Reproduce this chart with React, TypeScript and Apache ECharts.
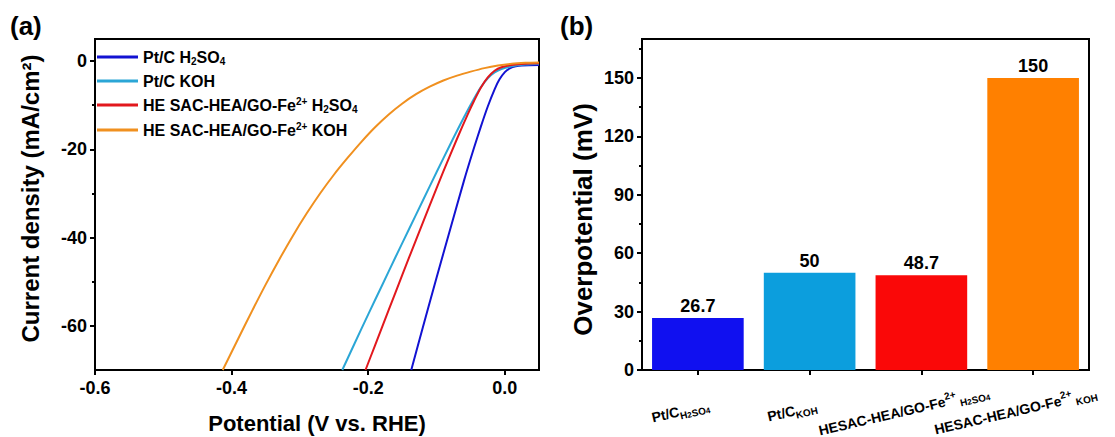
import React, { useEffect, useRef } from 'react';
import * as echarts from 'echarts';

const FONT = '"Liberation Sans", Arial, sans-serif';

// (a) LSV curves: [potential (V vs RHE), current density (mA/cm2)]
const ptcH2SO4: [number, number][] = [
  [-0.137, -70], [-0.12, -60.3], [-0.1, -49.1], [-0.08, -38.1], [-0.06, -27.2], [-0.045, -19.6],
  [-0.035, -14.8], [-0.025, -10.3], [-0.015, -6.4], [-0.008, -4.2], [0.0, -2.5], [0.008, -1.6],
  [0.016, -1.2], [0.025, -1.0], [0.05, -0.9],
];
const ptcKOH: [number, number][] = [
  [-0.238, -70], [-0.22, -64.0], [-0.2, -57.4], [-0.18, -50.9], [-0.16, -44.4], [-0.14, -38.0],
  [-0.12, -31.6], [-0.1, -25.2], [-0.08, -18.9], [-0.06, -12.8], [-0.045, -8.5], [-0.035, -5.9],
  [-0.025, -3.9], [-0.015, -2.6], [-0.005, -1.8], [0.01, -1.2], [0.03, -0.8], [0.05, -0.6],
];
const hesacH2SO4: [number, number][] = [
  [-0.204, -70], [-0.19, -64.4], [-0.17, -56.4], [-0.15, -48.4], [-0.13, -40.5], [-0.11, -32.7],
  [-0.09, -25.0], [-0.07, -17.6], [-0.055, -12.3], [-0.045, -9.0], [-0.035, -6.0], [-0.025, -3.7],
  [-0.015, -2.2], [-0.005, -1.4], [0.01, -0.9], [0.03, -0.6], [0.05, -0.5],
];
const hesacKOH: [number, number][] = [
  [-0.413, -70], [-0.39, -62.8], [-0.37, -56.6], [-0.35, -50.6], [-0.33, -44.9], [-0.31, -39.5],
  [-0.29, -34.5], [-0.27, -29.9], [-0.25, -25.7], [-0.23, -21.9], [-0.21, -18.3], [-0.19, -15.0],
  [-0.17, -12.1], [-0.15, -9.6], [-0.13, -7.5], [-0.11, -5.8], [-0.09, -4.4], [-0.07, -3.3],
  [-0.05, -2.4], [-0.03, -1.6], [-0.01, -1.0], [0.01, -0.6], [0.03, -0.4], [0.05, -0.3],
];
const lineNames = ['Pt/C H2SO4', 'Pt/C KOH', 'HE SAC-HEA/GO-Fe2+ H2SO4', 'HE SAC-HEA/GO-Fe2+ KOH'];
const lineColors = ['#1212d2', '#2ba6d6', '#e2181d', '#f0901f'];
const lsvXTicks = [-0.6, -0.4, -0.2, 0.0];
const lsvYTicks = [0, -20, -40, -60];
const lsvYMinor = [-10, -30, -50];

// (b) overpotential bars
const barCategories = ['Pt/C H2SO4', 'Pt/C KOH', 'HESAC-HEA/GO-Fe2+ H2SO4', 'HESAC-HEA/GO-Fe2+ KOH'];
const overpotentials = [26.7, 50, 48.7, 150];
const barColors = ['#1010f0', '#0c9edd', '#fa0808', '#ff8000'];
const barYTicks = [0, 30, 60, 90, 120, 150];
const barYMinor = [15, 45, 75, 105, 135, 165];

const legendRich: Record<string, string> = {
  'Pt/C H2SO4': '{t|Pt/C H}{s|2}{t|SO}{s|4}',
  'Pt/C KOH': '{t|Pt/C KOH}',
  'HE SAC-HEA/GO-Fe2+ H2SO4': '{t|HE SAC-HEA/GO-Fe}{p|2+}{t| H}{s|2}{t|SO}{s|4}',
  'HE SAC-HEA/GO-Fe2+ KOH': '{t|HE SAC-HEA/GO-Fe}{p|2+}{t| KOH}',
};
const barLabelRich = [
  '{m|Pt/C}{s|H}{ss|2}{s|SO}{ss|4}',
  '{m|Pt/C}{s|KOH}',
  '{m|HESAC-HEA/GO-Fe}{p|2+}{s| H}{ss|2}{s|SO}{ss|4}',
  '{m|HESAC-HEA/GO-Fe}{p|2+}{s| KOH}',
];

const axisLineStyle = { color: '#000', width: 2 };
const tickStyle = { color: '#000', width: 2 };
const tickLabel = { fontSize: 18, fontWeight: 'bold', color: '#000', fontFamily: FONT };
const titleStyle = { fontSize: 22, fontWeight: 'bold', color: '#000', fontFamily: FONT };

export default function App() {
  const ref = useRef<HTMLDivElement>(null);
  useEffect(() => {
    if (!ref.current) return;
    const chart = echarts.init(ref.current, undefined, { renderer: 'svg' });
    const lineData = [ptcH2SO4, ptcKOH, hesacH2SO4, hesacKOH];
    const option: any = {
      animation: false,
      textStyle: { fontFamily: FONT },
      grid: [
        { left: 95, top: 39, width: 444, height: 331, show: true, borderColor: '#000', borderWidth: 2, outerBoundsMode: 'none' },
        { left: 642, top: 39, width: 447, height: 331, show: true, borderColor: '#000', borderWidth: 2, outerBoundsMode: 'none' },
      ],
      legend: {
        orient: 'vertical', left: 97, top: 49, padding: 0, itemGap: 7,
        itemWidth: 41, itemHeight: 3, icon: 'rect',
        data: lineNames,
        formatter: (n: string) => legendRich[n],
        textStyle: {
          fontSize: 16, fontWeight: 'bold', color: '#000', fontFamily: FONT,
          rich: {
            t: { fontSize: 16, fontWeight: 'bold', color: '#000', lineHeight: 18, fontFamily: FONT },
            s: { fontSize: 10, fontWeight: 'bold', color: '#000', lineHeight: 10, verticalAlign: 'bottom', fontFamily: FONT },
            p: { fontSize: 10, fontWeight: 'bold', color: '#000', lineHeight: 10, verticalAlign: 'top', fontFamily: FONT },
          },
        },
      },
      xAxis: [
        {
          type: 'value', gridIndex: 0, min: -0.6, max: 0.05,
          axisLine: { show: true, onZero: false, lineStyle: axisLineStyle },
          axisTick: { show: true, inside: false, length: 5, lineStyle: tickStyle, customValues: lsvXTicks },
          axisLabel: { ...tickLabel, margin: 9, customValues: lsvXTicks, formatter: (v: number) => v.toFixed(1) },
          splitLine: { show: false },
          name: 'Potential (V vs. RHE)', nameLocation: 'middle', nameGap: 42, nameTextStyle: titleStyle,
        },
        {
          type: 'category', gridIndex: 1, data: barCategories,
          axisLine: { show: true, lineStyle: axisLineStyle },
          axisTick: { show: true, alignWithLabel: true, length: 5, lineStyle: tickStyle },
          axisLabel: {
            interval: 0, rotate: 13, align: 'center', verticalAlign: 'middle', margin: 37,
            padding: [0, 36, 0, 0],
            formatter: (_v: string, i: number) => barLabelRich[i],
            rich: {
              m: { fontSize: 14, fontWeight: 'bold', color: '#000', lineHeight: 20, fontFamily: FONT },
              s: { fontSize: 10, fontWeight: 'bold', color: '#000', lineHeight: 10, verticalAlign: 'bottom', fontFamily: FONT },
              ss: { fontSize: 8, fontWeight: 'bold', color: '#000', lineHeight: 8, verticalAlign: 'bottom', fontFamily: FONT },
              p: { fontSize: 10, fontWeight: 'bold', color: '#000', lineHeight: 10, verticalAlign: 'top', fontFamily: FONT },
            },
          },
          splitLine: { show: false },
        },
      ],
      yAxis: [
        {
          type: 'value', gridIndex: 0, min: -70, max: 5, position: 'left',
          axisLine: { show: true, onZero: false, lineStyle: axisLineStyle },
          axisTick: { show: true, inside: false, length: 5, lineStyle: tickStyle, customValues: lsvYTicks },
          axisLabel: { ...tickLabel, margin: 8, customValues: lsvYTicks },
          splitLine: { show: false },
          name: 'Current density (mA/cm²)', nameLocation: 'middle', nameRotate: 90, nameGap: 53,
          nameTextStyle: { fontSize: 24, fontWeight: 'bold', color: '#000', fontFamily: FONT, padding: [0, 0, 0, 12] },
        },
        {
          type: 'value', gridIndex: 0, min: -70, max: 5, position: 'left', offset: 0,
          axisLine: { show: false, onZero: false },
          axisTick: { show: true, inside: false, length: 3, lineStyle: tickStyle, customValues: lsvYMinor },
          axisLabel: { show: false },
          splitLine: { show: false },
        },
        {
          type: 'value', gridIndex: 1, min: 0, max: 170, position: 'left',
          axisLine: { show: true, onZero: false, lineStyle: axisLineStyle },
          axisTick: { show: true, inside: false, length: 5, lineStyle: tickStyle, customValues: barYTicks },
          axisLabel: { ...tickLabel, margin: 8, customValues: barYTicks },
          splitLine: { show: false },
          name: 'Overpotential (mV)', nameLocation: 'middle', nameRotate: 90, nameGap: 46,
          nameTextStyle: { fontSize: 26, fontWeight: 'bold', color: '#000', fontFamily: FONT, padding: [0, 30, 0, 0] },
        },
        {
          type: 'value', gridIndex: 1, min: 0, max: 170, position: 'left', offset: 0,
          axisLine: { show: false, onZero: false },
          axisTick: { show: true, inside: false, length: 3, lineStyle: tickStyle, customValues: barYMinor },
          axisLabel: { show: false },
          splitLine: { show: false },
        },
      ],
      series: [
        ...lineNames.map((name, i) => ({
          name, type: 'line', xAxisIndex: 0, yAxisIndex: 0, data: lineData[i],
          showSymbol: false, smooth: 0.3, color: lineColors[i],
          lineStyle: { width: 2, color: lineColors[i] },
          itemStyle: { color: lineColors[i] },
        })),
        {
          type: 'bar', xAxisIndex: 1, yAxisIndex: 2, barCategoryGap: '18%',
          data: overpotentials.map((v, i) => ({ value: v, itemStyle: { color: barColors[i] } })),
          label: { show: true, position: 'top', distance: 3, fontSize: 18, fontWeight: 'bold', color: '#000', fontFamily: FONT },
        },
      ],
      graphic: [
        { type: 'text', left: 10, top: 13, style: { text: '(a)', fontSize: 26, fontWeight: 'bold', fill: '#000', fontFamily: FONT } },
        { type: 'text', left: 560, top: 13, style: { text: '(b)', fontSize: 26, fontWeight: 'bold', fill: '#000', fontFamily: FONT } },
      ],
    };
    chart.setOption(option);
    return () => chart.dispose();
  }, []);
  return (
    <div
      ref={ref}
      style={{ position: 'fixed', left: 0, top: 0, width: 1115, height: 437, background: '#fff' }}
    />
  );
}
